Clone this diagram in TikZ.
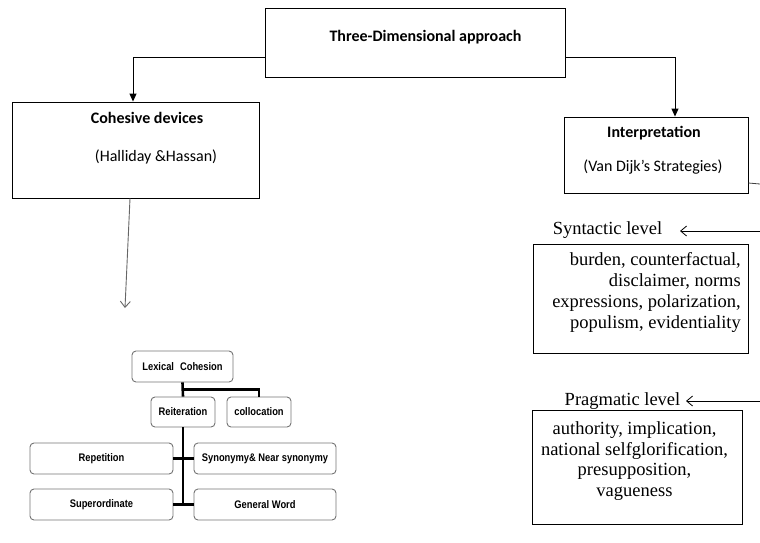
\documentclass[tikz,border=0pt]{standalone}
\usepackage{fontspec}
\setmainfont{Liberation Serif}
\newfontfamily\calibri{Carlito}
\newfontfamily\arialn[FakeStretch=0.85]{Liberation Sans}
\usetikzlibrary{arrows.meta}
\begin{document}
\begin{tikzpicture}[x=1pt,y=-1pt,
  box/.style={draw, line width=0.9pt, inner sep=0pt},
  calb/.style={font=\calibri\bfseries\fontsize{16}{19}\selectfont, inner sep=0pt},
  cal/.style={font=\calibri\fontsize{16}{19}\selectfont, inner sep=0pt},
  tms/.style={font=\fontsize{18.5}{20.8}\selectfont, inner sep=0pt},
  lexbox/.style={draw=black!55, rounded corners=4pt, line width=0.9pt, inner sep=0pt,
    font=\arialn\bfseries\fontsize{11}{12}\selectfont},
  tree/.style={line width=2.6pt},
  flow/.style={line width=0.9pt, -{Triangle[length=8pt,width=7pt]}},
  barb/.style={line width=0.8pt, -{Straight Barb[length=6pt,width=10pt]}}
]
\useasboundingbox (0,0) rectangle (760,542);

% top box
\node[box, minimum width=300pt, minimum height=69pt] (top) at (415,42.5) {};
\node[calb] (toptxt) at (425.5,37) {Three-Dimensional approach};

% cohesive devices
\node[box, minimum width=247pt, minimum height=96pt] (coh) at (135.5,150) {};
\node[calb] (cohtxt) at (147,118) {Cohesive devices};
\node[cal] (cohsub) at (156,157) {(Halliday \&Hassan)};

% interpretation
\node[box, minimum width=184pt, minimum height=76pt] (interp) at (656,155) {};
\node[calb] (intxt) at (654,133) {Interpretation};
\node[cal] (insub) at (653,167) {(Van Dijk’s Strategies)};

% connectors from top
\draw[flow] ([yshift=-14.5pt]top.west) -| ([xshift=-2.5pt]coh.north);
\draw[flow] ([yshift=-14.5pt]top.east) -| ([xshift=19pt]interp.north);

% short line leaving interpretation box
\coordinate (edgeA) at (760,184);
\draw[line width=0.8pt, black!75] ([yshift=-28pt]interp.east) -- (edgeA);

% syntactic level
\node[tms] (synlab) at (607.5,230) {Syntactic level};
\coordinate (edgeB) at (760,231);
\coordinate (synT) at (680,231);
\draw[barb] (edgeB) -- (synT);
\node[box, minimum width=215pt, minimum height=109pt] (synbox) at (640.5,298.5) {};
\node[tms, align=right, anchor=east] (syntxt) at (741,292.5)
  {burden, counterfactual,\\disclaimer, norms\\expressions, polarization,\\populism, evidentiality};

% pragmatic level
\node[tms] (praglab) at (622.5,401) {Pragmatic level};
\coordinate (edgeC) at (760,401);
\coordinate (pragT) at (686,401);
\draw[barb] (edgeC) -- (pragT);
\node[box, minimum width=210pt, minimum height=114pt] (pragbox) at (637,467) {};
\node[tms, align=center] (pragtxt) at (634.5,461)
  {authority, implication,\\national selfglorification,\\presupposition,\\vagueness};

% arrow from cohesive devices
\coordinate (cohT) at (125,308);
\draw[line width=0.9pt, black!60, -{Straight Barb[length=6pt,width=10pt]}] ([xshift=-5.5pt]coh.south) -- (cohT);

% lexical cohesion tree
\node[lexbox, minimum width=101pt, minimum height=31pt] (lc) at (182.5,366.5) {Lexical\hspace{6pt}Cohesion};
\node[lexbox, minimum width=64pt, minimum height=30pt] (reit) at (183,412) {Reiteration};
\node[lexbox, minimum width=64pt, minimum height=30pt] (coll) at (259,412) {collocation};
\node[lexbox, minimum width=143pt, minimum height=31pt] (rep) at (101.5,458.5) {Repetition};
\node[lexbox, minimum width=142pt, minimum height=31pt] (syn) at (265,458.5) {Synonymy\& Near synonymy};
\node[lexbox, minimum width=143pt, minimum height=31pt] (sup) at (101.5,504.5) {Superordinate};
\node[lexbox, minimum width=142pt, minimum height=31pt] (gen) at (265,504.5) {General Word};

\draw[tree] (lc.south) -- (reit.north);
\draw[tree] ([yshift=-7pt]lc.south) -| (coll.north);
\draw[tree] (reit.south) -- (reit.south |- sup.east);
\draw[tree] (rep.east) -- (syn.west);
\draw[tree] (sup.east) -- (gen.west);
\end{tikzpicture}
\end{document}
